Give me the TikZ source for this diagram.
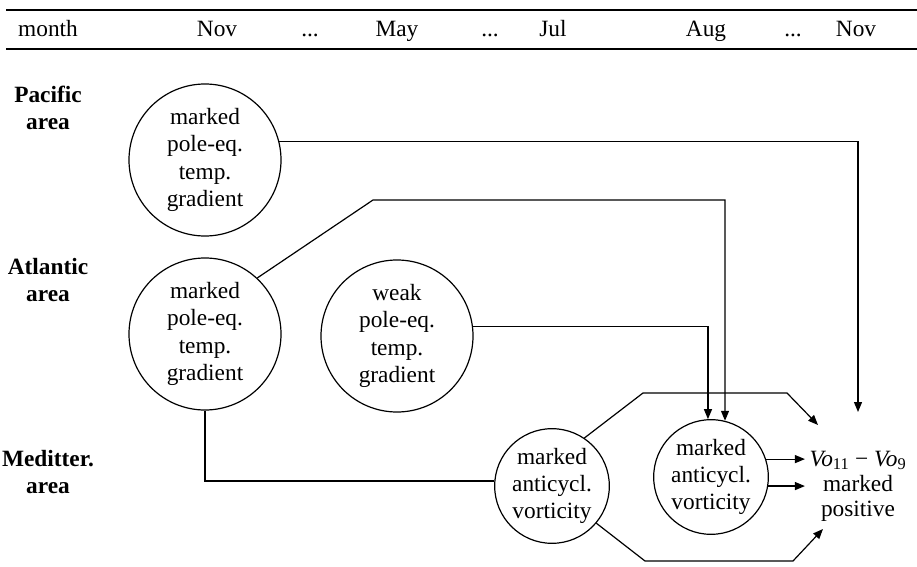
\documentclass[tikz,border=0pt]{standalone}
\usepackage{fontspec}
\setmainfont{Liberation Serif}
\usetikzlibrary{arrows.meta}

\begin{document}
\begin{tikzpicture}[x=0.75pt,y=0.75pt,yscale=-1,xscale=1,
    every node/.style={font=\fontsize{17.5}{20.5}\selectfont},
    bigcirc/.style={draw,circle,line width=0.9pt,minimum size=114pt,inner sep=0pt,align=center},
    smallcirc/.style={draw,circle,line width=0.9pt,minimum size=86pt,inner sep=0pt,align=center},
    arealabel/.style={align=center,font=\fontsize{17.5}{20.5}\selectfont\bfseries},
    monthlabel/.style={anchor=base},
    link/.style={line width=0.9pt},
    arr/.style={line width=0.9pt,-{Triangle[length=7.5pt,width=6pt]}}]
                \useasboundingbox (0,0) rectangle (917,567);
                % header
                \draw [line width=1pt] (6,10) -- (917,10) ;
                \draw [line width=1pt] (6,49) -- (917,49) ;
                \node [monthlabel] (hmonth) at (48,37) {month};
                \node [monthlabel] (hnov) at (217,37) {Nov};
                \node [monthlabel] (hdots1) at (310,37) {...};
                \node [monthlabel] (hmay) at (397,37) {May};
                \node [monthlabel] (hdots2) at (490,37) {...};
                \node [monthlabel] (hjul) at (553,37) {Jul};
                \node [monthlabel] (haug) at (706,37) {Aug};
                \node [monthlabel] (hdots3) at (793,37) {...};
                \node [monthlabel] (hnovb) at (856,37) {Nov};
                % areas
                \node [arealabel] (lpac) at (48,108) {Pacific\\area};
                \node [arealabel] (latl) at (48,280) {Atlantic\\area};
                \node [arealabel] (lmed) at (48,472) {Meditter.\\area};
                % circles
                \node [bigcirc] (pac) at (205,160) {marked\\pole-eq.\\temp.\\gradient};
                \node [bigcirc] (atm) at (205,334) {marked\\pole-eq.\\temp.\\gradient};
                \node [bigcirc] (weak) at (397,336) {weak\\pole-eq.\\temp.\\gradient};
                \node [smallcirc] (meda) at (552,486) {marked\\anticycl.\\vorticity};
                \node [smallcirc] (medb) at (711,477) {marked\\anticycl.\\vorticity};
                \node [align=center,font=\fontsize{17.5}{18.75}\selectfont] (res) at (858,486) {\textit{Vo}\textsubscript{11} − \textit{Vo}\textsubscript{9}\\marked\\positive};
                \coordinate (pacend) at (858,412);
                \coordinate (restop) at (818,425);
                \coordinate (resbot) at (823,529);
                % connectors
                \draw [arr] (pac.14) -| (pacend) ;
                \draw [arr] (atm.47) -- (373,200) -| (medb.76) ;
                \draw [arr] (weak.7) -| (medb.93) ;
                \draw [link] (atm.south) |- (meda.175) ;
                \draw [arr] (meda.56) -- (643,393) -- (787,393) -- (restop) ;
                \draw [arr] (meda.-40) -- (645,561) -- (793,561) -- (resbot) ;
                \draw [arr] (medb.18) -- (medb.18 -| res.west) ;
                \draw [arr] (medb.-9) -- (medb.-9 -| res.west) ;
            \end{tikzpicture}
\end{document}
